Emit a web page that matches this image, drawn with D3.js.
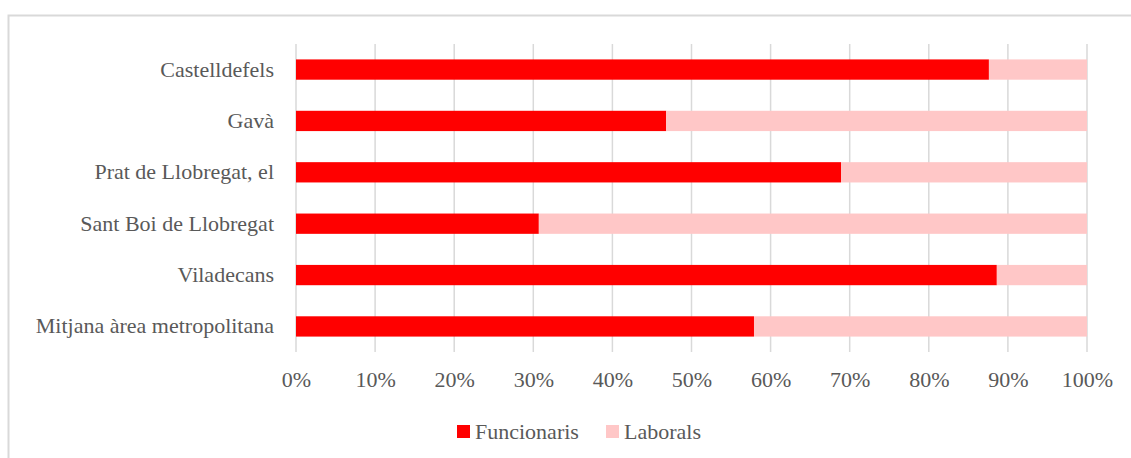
<!DOCTYPE html>
<html>
<head>
<meta charset="utf-8">
<script src="https://cdn.jsdelivr.net/npm/d3@7"></script>
<style>
  html, body { margin: 0; padding: 0; background: #fff; }
  svg { display: block; }
  text { font-family: "Liberation Serif", "Times New Roman", serif; fill: #595959; }
</style>
</head>
<body>
<svg id="chart" width="1131" height="458"></svg>
<script>
const categories = ["Castelldefels", "Gavà", "Prat de Llobregat, el", "Sant Boi de Llobregat", "Viladecans", "Mitjana àrea metropolitana"];
const seriesNames = ["Funcionaris", "Laborals"];
const funcionaris = [87.6, 46.8, 68.9, 30.7, 88.6, 57.9];
const laborals = [12.4, 53.2, 31.1, 69.3, 11.4, 42.1];
const tickValues = [0, 10, 20, 30, 40, 50, 60, 70, 80, 90, 100];
const colors = ["#ff0000", "#ffc7c7"];

const svg = d3.select("#chart");
const W = 1131, H = 458;
const m = { left: 296, right: 1087, top: 44, bottom: 352 };
const FONT = "'Liberation Serif', 'Times New Roman', serif";

// chart frame
svg.append("rect").attr("x", 8.5).attr("y", 15.5).attr("width", W).attr("height", H)
  .attr("fill", "none").attr("stroke", "#d9d9d9").attr("stroke-width", 2);

const x = d3.scaleLinear().domain([0, 100]).range([m.left, m.right]);
const y = d3.scaleBand().domain(categories).range([m.top, m.bottom]).paddingInner(0.605).paddingOuter(0.3);

// gridlines
svg.append("g").selectAll("line").data(tickValues).join("line")
  .attr("x1", d => x(d)).attr("x2", d => x(d))
  .attr("y1", m.top).attr("y2", m.bottom)
  .attr("stroke", "#d9d9d9").attr("stroke-width", 1.5);

const rows = categories.map((c, i) => ({ cat: c, Funcionaris: funcionaris[i], Laborals: laborals[i] }));
const stack = d3.stack().keys(seriesNames).offset(d3.stackOffsetExpand)(rows);

svg.append("g").selectAll("g").data(stack).join("g")
  .attr("fill", (d, i) => colors[i])
  .selectAll("rect").data(d => d).join("rect")
  .attr("x", d => x(d[0] * 100))
  .attr("width", d => x(d[1] * 100) - x(d[0] * 100))
  .attr("y", d => y(d.data.cat))
  .attr("height", y.bandwidth());

// y axis labels
const yAxis = d3.axisLeft(y).tickSize(0).tickPadding(22);
const gy = svg.append("g").attr("transform", `translate(${m.left},0)`).call(yAxis)
  .attr("font-family", FONT);
gy.select(".domain").remove();
gy.selectAll("text").style("font-size", "22px").style("font-family", FONT).attr("fill", "#595959");

// x axis labels
const xAxis = d3.axisBottom(x).tickValues(tickValues).tickFormat(d => d + "%").tickSize(0).tickPadding(19);
const gx = svg.append("g").attr("transform", `translate(0,${m.bottom})`).call(xAxis)
  .attr("font-family", FONT);
gx.select(".domain").remove();
gx.selectAll("text").style("font-size", "22px").style("font-family", FONT).attr("fill", "#595959");

// legend
const legendX = [457, 606];
const lg = svg.append("g");
seriesNames.forEach((s, i) => {
  lg.append("rect").attr("x", legendX[i]).attr("y", 425).attr("width", 13).attr("height", 13).attr("fill", colors[i]);
  lg.append("text").attr("x", legendX[i] + 18).attr("y", 438.5)
    .style("font-size", "22px").style("font-family", FONT).text(s);
});
</script>
</body>
</html>
